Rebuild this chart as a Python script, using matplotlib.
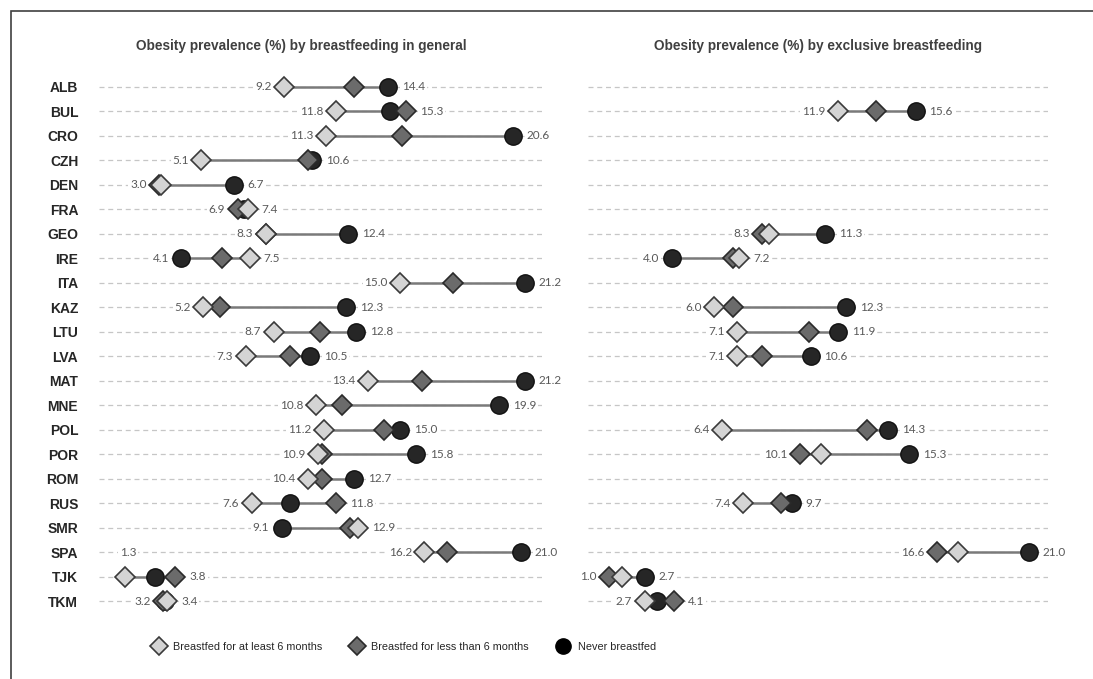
import numpy as np
import matplotlib
matplotlib.use("Agg")
import matplotlib.pyplot as plt
from matplotlib.lines import Line2D
from matplotlib.patches import Rectangle

nan = np.nan

countries = ["ALB", "BUL", "CRO", "CZH", "DEN", "FRA", "GEO", "IRE", "ITA", "KAZ", "LTU",
             "LVA", "MAT", "MNE", "POL", "POR", "ROM", "RUS", "SMR", "SPA", "TJK", "TKM"]

# breastfeeding in general
gen_ge6 = [9.2, 11.8, 11.3, 5.1, 3.1, 7.4, 8.3, 7.5, 15.0, 5.2, 8.7,
           7.3, 13.4, 10.8, 11.2, 10.9, 10.4, 7.6, 12.9, 16.2, 1.3, 3.4]
gen_lt6 = [12.7, 15.3, 15.1, 10.4, 3.0, 6.9, 8.3, 6.1, 17.6, 6.0, 11.0,
           9.5, 16.1, 12.1, 14.2, 11.1, 11.1, 11.8, 12.5, 17.3, 3.8, 3.2]
gen_never = [14.4, 14.5, 20.6, 10.6, 6.7, 7.2, 12.4, 4.1, 21.2, 12.3, 12.8,
             10.5, 21.2, 19.9, 15.0, 15.8, 12.7, 9.5, 9.1, 21.0, 2.8, 3.3]

# exclusive breastfeeding
excl_ge6 = [nan, 11.9, nan, nan, nan, nan, 8.6, 7.2, nan, 6.0, 7.1,
            7.1, nan, nan, 6.4, 11.1, nan, 7.4, nan, 17.6, 1.6, 2.7]
excl_lt6 = [nan, 13.7, nan, nan, nan, nan, 8.3, 6.9, nan, 6.9, 10.5,
            8.3, nan, nan, 13.3, 10.1, nan, 9.2, nan, 16.6, 1.0, 4.1]
excl_never = [nan, 15.6, nan, nan, nan, nan, 11.3, 4.0, nan, 12.3, 11.9,
              10.6, nan, nan, 14.3, 15.3, nan, 9.7, nan, 21.0, 2.7, 3.3]

titles = ["Obesity prevalence (%) by breastfeeding in general",
          "Obesity prevalence (%) by exclusive breastfeeding"]
legend_labels = ["Breastfed for at least 6 months", "Breastfed for less than 6 months", "Never breastfed"]

SANS = ["Liberation Sans", "DejaVu Sans"]
c_light, c_dark, c_never = "#d4d4d4", "#6b6b6b", "#262626"

W, H = 1093, 679
fig = plt.figure(figsize=(W / 100, H / 100), dpi=100)

# frame of the original figure box (top and left edge visible)
fig.add_artist(Rectangle((11 / W, -0.2), 2, 1.2 - 11 / H, transform=fig.transFigure,
                         fill=False, edgecolor="#404040", lw=1.2))

y_top, y_bot = 87 - 12.24, 601 + 12.24
panels = [
    dict(x0=99, x1=545, xmax=22.2, data=(gen_ge6, gen_lt6, gen_never)),
    dict(x0=588, x1=1048, xmax=21.9, data=(excl_ge6, excl_lt6, excl_never)),
]
y = np.arange(len(countries))

for k, p in enumerate(panels):
    ax = fig.add_axes([p["x0"] / W, 1 - y_bot / H, (p["x1"] - p["x0"]) / W, (y_bot - y_top) / H])
    ax.set_xlim(0, p["xmax"])
    ax.set_ylim(len(countries) - 0.5, -0.5)
    for s in ax.spines.values():
        s.set_visible(False)
    ax.set_xticks([])
    ax.tick_params(axis="y", length=0, pad=15)
    if k == 0:
        ax.set_yticks(y)
        ax.set_yticklabels(countries, fontfamily=SANS, fontweight="bold", fontsize=10, color="#262626")
    else:
        ax.set_yticks([])
    for yi in y:
        ax.axhline(yi, color="#c6c6c6", lw=0.9, ls=(0, (4, 3)), zorder=0)

    ge6, lt6, never = [np.array(d, dtype=float) for d in p["data"]]
    allv = np.vstack([ge6, lt6, never])
    ok = ~np.isnan(never)
    lo = np.full(len(y), nan)
    hi = np.full(len(y), nan)
    lo[ok] = allv[:, ok].min(axis=0)
    hi[ok] = allv[:, ok].max(axis=0)
    ax.hlines(y[ok], lo[ok], hi[ok], color="#7a7a7a", lw=1.8, zorder=2)
    ax.plot(never, y, "o", ms=12.5, mfc=c_never, mec="#111111", mew=1, ls="none", zorder=3)
    ax.plot(lt6, y, "D", ms=10, mfc=c_dark, mec="#2a2a2a", mew=1.2, ls="none", zorder=4)
    ax.plot(ge6, y, "D", ms=10, mfc=c_light, mec="#3a3a3a", mew=1.2, ls="none", zorder=5)

    for i in y[ok]:
        if k == 0 and countries[i] == "TJK":
            # this label sits one row up in the source
            off, ha = (2, 17.6), "center"
        else:
            off, ha = (-9, 0), "right"
        ax.annotate(f"{lo[i]:.1f}", (lo[i], i), xytext=off, textcoords="offset points",
                    ha=ha, va="center", fontsize=8.5, fontfamily="Lato", color="#595959",
                    bbox=dict(boxstyle="square,pad=0.15", fc="white", ec="none"), zorder=1)
        ax.annotate(f"{hi[i]:.1f}", (hi[i], i), xytext=(10, 0), textcoords="offset points",
                    ha="left", va="center", fontsize=8.5, fontfamily="Lato", color="#595959",
                    bbox=dict(boxstyle="square,pad=0.15", fc="white", ec="none"), zorder=1)

fig.text(301 / W, 1 - 46 / H, titles[0], ha="center", va="center", fontsize=9.8,
         fontfamily=SANS, fontweight="bold", color="#404040")
fig.text(818 / W, 1 - 46 / H, titles[1], ha="center", va="center", fontsize=9.8,
         fontfamily=SANS, fontweight="bold", color="#404040")

handles = [
    Line2D([], [], marker="D", ls="none", ms=9, mfc=c_light, mec="#3a3a3a", mew=1.2),
    Line2D([], [], marker="D", ls="none", ms=9, mfc=c_dark, mec="#2a2a2a", mew=1.2),
    Line2D([], [], marker="o", ls="none", ms=11, mfc="black", mec="black"),
]
fig.legend(handles, legend_labels, loc="center", bbox_to_anchor=(403 / W, 1 - 647 / H), ncol=3,
           frameon=False, prop=dict(family=SANS, size=7.8), handlelength=1.5, handletextpad=0.6,
           columnspacing=2.4, labelcolor="#262626")

plt.savefig("out.png", dpi=100)
